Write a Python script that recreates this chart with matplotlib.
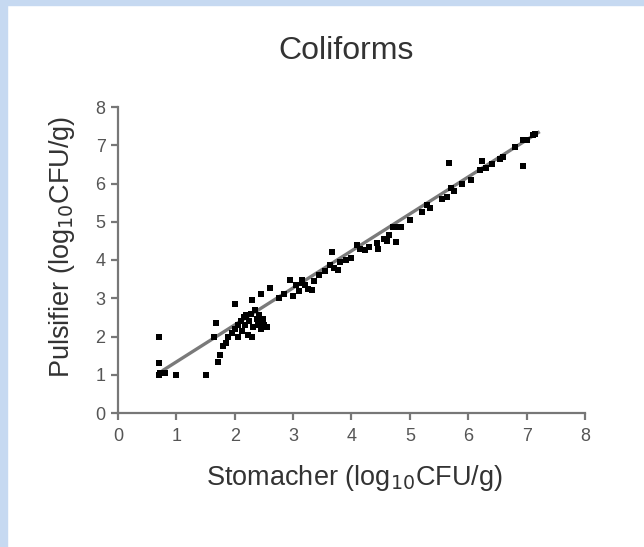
import matplotlib.pyplot as plt
import numpy as np

plt.rcParams['font.family'] = ['Liberation Sans', 'DejaVu Sans']

# Stomacher vs Pulsifier counts (log10 CFU/g)
stomacher = [0.70, 0.70, 0.70, 0.72, 0.80, 1.00, 1.50,
             1.65, 1.68, 1.72, 1.75, 1.80, 1.85, 1.88, 1.95, 2.00, 2.00, 2.05, 2.05, 2.10,
             2.12, 2.15, 2.18, 2.20, 2.22, 2.25, 2.28, 2.30, 2.30, 2.32, 2.35, 2.38, 2.40,
             2.42, 2.45, 2.45, 2.48, 2.50, 2.55, 2.60,
             2.75, 2.85, 2.95, 3.00, 3.05, 3.10, 3.15, 3.15, 3.20, 3.25, 3.32, 3.35, 3.45,
             3.55, 3.63, 3.66, 3.70, 3.77, 3.80, 3.90, 4.00, 4.09, 4.15, 4.23, 4.30, 4.43,
             4.45, 4.55, 4.60, 4.65, 4.71, 4.75, 4.77, 4.85,
             5.00, 5.20, 5.29, 5.35, 5.55, 5.63, 5.67, 5.71, 5.75, 5.90, 6.05, 6.20, 6.23,
             6.31, 6.40, 6.55, 6.60, 6.80, 6.93, 6.94, 7.00, 7.11, 7.15]
pulsifier = [2.00, 1.32, 1.00, 1.05, 1.05, 1.00, 1.00,
             2.00, 2.35, 1.34, 1.52, 1.75, 1.82, 2.00, 2.10, 2.85, 2.20, 2.30, 2.00, 2.40,
             2.15, 2.50, 2.30, 2.55, 2.05, 2.40, 2.60, 2.00, 2.95, 2.25, 2.70, 2.45, 2.30,
             2.55, 3.11, 2.20, 2.45, 2.30, 2.26, 3.26,
             3.00, 3.10, 3.48, 3.05, 3.35, 3.20, 3.48, 3.40, 3.35, 3.25, 3.22, 3.45, 3.60,
             3.70, 3.87, 4.22, 3.80, 3.74, 3.95, 4.00, 4.05, 4.39, 4.30, 4.26, 4.35, 4.44,
             4.30, 4.55, 4.50, 4.65, 4.87, 4.85, 4.48, 4.85,
             5.05, 5.25, 5.44, 5.35, 5.60, 5.66, 6.53, 5.87, 5.80, 6.00, 6.10, 6.35, 6.60,
             6.40, 6.50, 6.65, 6.70, 6.95, 6.46, 7.14, 7.15, 7.27, 7.30]

# regression line as printed
fit_slope = 0.967
fit_intercept = 0.37
fit_x = [0.78, 7.2]

ticks = [0, 1, 2, 3, 4, 5, 6, 7, 8]

fig = plt.figure(figsize=(6.44, 5.47), dpi=100)
fig.patch.set_facecolor('white')
# light blue frame on left and top
fig.add_artist(plt.Rectangle((0, 0), 7 / 644, 1, transform=fig.transFigure,
                             color='#c6d9f1', zorder=0))
fig.add_artist(plt.Rectangle((0, 1 - 5 / 547), 1, 5 / 547, transform=fig.transFigure,
                             color='#c6d9f1', zorder=0))

ax = fig.add_axes([118 / 644, 1 - 413 / 547, 467 / 644, 306 / 547])
fx = np.array(fit_x)
ax.plot(fx, fit_slope * fx + fit_intercept, color='#7a7a7a', lw=2.4, zorder=2)
ax.scatter(stomacher, pulsifier, marker='s', s=16, color='black', linewidths=0, zorder=3)

ax.set_xlim(0, 8)
ax.set_ylim(0, 8)
ax.set_xticks(ticks)
ax.set_yticks(ticks)
for side in ['top', 'right']:
    ax.spines[side].set_visible(False)
for side in ['left', 'bottom']:
    ax.spines[side].set_color('#777777')
    ax.spines[side].set_linewidth(1.6)
ax.tick_params(colors='#777777', width=1.6, length=5, labelsize=13, labelcolor='#555555')
ax.tick_params(axis='x', pad=6)
ax.tick_params(axis='y', pad=4)

fig.text(346 / 644, 1 - 51 / 547, 'Coliforms', ha='center', va='center',
         fontsize=23, color='#333333')
fig.text(354 / 644, 1 - 478 / 547, 'Stomacher (log$_{10}$CFU/g)', ha='center', va='center',
         fontsize=19.5, color='#333333')
fig.text(62 / 644, 1 - 247 / 547, 'Pulsifier (log$_{10}$CFU/g)', ha='center', va='center',
         fontsize=19.5, color='#333333', rotation=90)

fig.savefig('out.png', dpi=100)
